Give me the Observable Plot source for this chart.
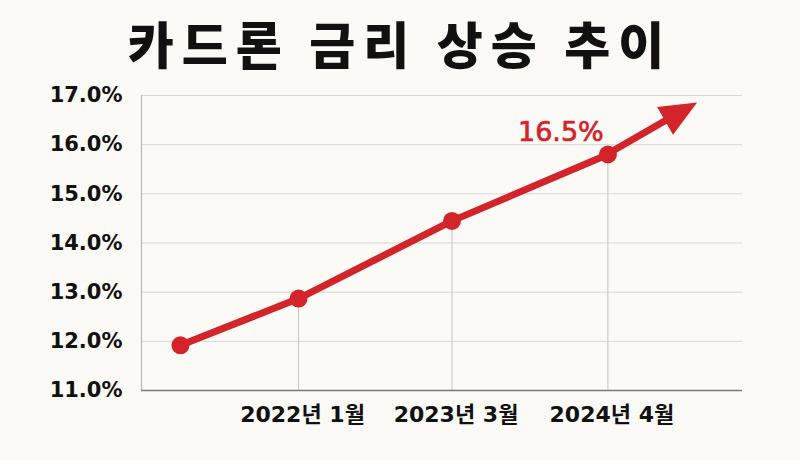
<!DOCTYPE html>
<html>
<head>
<meta charset="utf-8">
<script src="https://cdn.jsdelivr.net/npm/d3@7"></script>
<script src="https://cdn.jsdelivr.net/npm/@observablehq/plot@0.6"></script>
<style>
  html, body { margin: 0; padding: 0; background: #fbfaf6; }
  #title { width: 800px; height: 80px; box-sizing: border-box; padding-top: 12px; padding-left: 0px; text-align: center;
    font-family: "Noto Sans CJK KR", sans-serif; font-weight: 900; font-size: 50px; line-height: 60px;
    letter-spacing: 8px; color: #111; }
</style>
</head>
<body>
<div id="title">카드론 금리 상승 추이</div>
<div id="chart"></div>
<script>
// Data
const positions = [0, 1, 2.3, 3.62];          // relative time position of each observation
const periods = ["", "2022년 1월", "2023년 3월", "2024년 4월"];
const rates = [11.92, 12.87, 14.45, 15.8];    // card loan rate, %
const arrowTip = {x: 4.38, y: 16.85};         // trend arrow end
const annotation = {label: "16.5%", index: 3};
const yTicks = [11, 12, 13, 14, 15, 16, 17];

const red = "#d4242b";
const data = positions.map((x, i) => ({x, y: rates[i], label: periods[i]}));
const labelled = data.filter(d => d.label);

function arrowHead(index, scales) {
  const last = data[data.length - 1];
  const px = scales.x(last.x), py = scales.y(last.y);
  const tx = scales.x(arrowTip.x), ty = scales.y(arrowTip.y);
  const dx = tx - px, dy = ty - py, len = Math.hypot(dx, dy);
  const ux = dx / len, uy = dy / len, nx = -uy, ny = ux;
  const L = 37, W = 16;
  const bx = tx - L * ux, by = ty - L * uy;
  const g = d3.create("svg:g");
  g.append("line").attr("x1", px).attr("y1", py).attr("x2", bx + 4 * ux).attr("y2", by + 4 * uy)
    .attr("stroke", red).attr("stroke-width", 7).attr("stroke-linecap", "round");
  g.append("polygon")
    .attr("points", [[tx, ty], [bx + W * nx, by + W * ny], [bx - W * nx, by - W * ny]].map(p => p.join(",")).join(" "))
    .attr("fill", red);
  return g.node();
}

const chart = Plot.plot({
  width: 800,
  height: 380,
  marginTop: 15,
  marginBottom: 70,
  marginLeft: 141,
  marginRight: 58,
  style: {background: "#fbfaf6", overflow: "visible"},
  x: {domain: [-0.33, 4.76], axis: null},
  y: {domain: [11, 17], axis: null},
  marks: [
    Plot.gridY(yTicks, {stroke: "#d6d6d6", strokeOpacity: 1, strokeWidth: 1}),
    Plot.ruleX([-0.33], {stroke: "#b8b8b8", strokeWidth: 1.2}),
    Plot.ruleX(labelled, {x: "x", y1: 11, y2: "y", stroke: "#c4c4c4", strokeWidth: 1}),
    Plot.ruleY([11], {stroke: "#7a7a7a", strokeWidth: 1.6}),
    Plot.axisY(yTicks, {tickSize: 0, tickPadding: 19, label: null, tickFormat: d => d.toFixed(1) + "%",
      fontSize: 21, fontWeight: "bold", fontFamily: "DejaVu Sans", fill: "#111", style: "letter-spacing:3.6px"}),
    Plot.text(labelled, {x: "x", y: 11, text: "label", dy: 24, dx: 4, fontSize: 22, fontWeight: "bold",
      fontFamily: "DejaVu Sans, Noto Sans CJK KR", fill: "#111", style: "letter-spacing:2.6px"}),
    Plot.line(data, {x: "x", y: "y", stroke: red, strokeWidth: 7, strokeLinecap: "round", strokeLinejoin: "round"}),
    arrowHead,
    Plot.dot(data, {x: "x", y: "y", r: 9, fill: red}),
    Plot.text([data[annotation.index]], {x: "x", y: "y", text: () => annotation.label, dx: -47, dy: -22,
      fontSize: 27, fontFamily: "DejaVu Sans", fill: red, stroke: red, strokeWidth: 0.7, style: "letter-spacing:2.6px"})
  ]
});
document.getElementById("chart").appendChild(chart);
</script>
</body>
</html>
